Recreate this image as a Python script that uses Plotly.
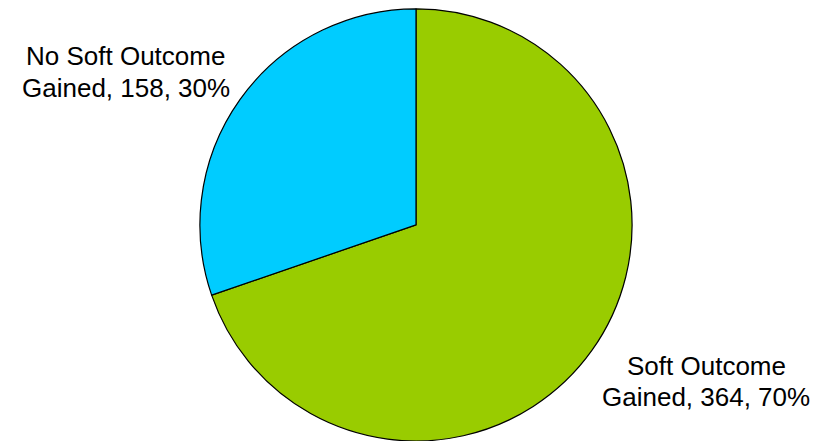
import plotly.graph_objects as go

labels = ["Soft Outcome Gained", "No Soft Outcome Gained"]
label_lines = [["Soft Outcome", "Gained"], ["No Soft Outcome", "Gained"]]
values = [364, 158]
colors = ["#99CC00", "#00CCFF"]

total = sum(values)
W, H = 821, 441

fig = go.Figure(go.Pie(
    labels=labels,
    values=values,
    sort=False,
    direction="clockwise",
    rotation=0,
    marker=dict(colors=colors, line=dict(color="#000000", width=1.2)),
    textinfo="none",
    hoverinfo="label+value+percent",
    showlegend=False,
    domain=dict(x=[(416 - 217) / W, (416 + 217) / W], y=[0.0, 0.98]),
))

# (x center, y center of line 1, y center of line 2) in pixels from top-left
label_pos = [(706, 366, 397), (126, 56, 88)]
font = dict(family="Liberation Sans, Arial, sans-serif", size=26, color="#000000")
anns = []
for i in range(len(values)):
    pct = round(100 * values[i] / total)
    lines = [label_lines[i][0], f"{label_lines[i][1]}, {values[i]}, {pct}%"]
    x, y1, y2 = label_pos[i]
    for txt, y in zip(lines, (y1, y2)):
        anns.append(dict(
            text=txt, x=x / W, y=1 - y / H, xref="paper", yref="paper",
            showarrow=False, xanchor="center", yanchor="middle", align="center",
            font=font,
        ))

fig.update_layout(
    width=W, height=H,
    margin=dict(l=0, r=0, t=0, b=0),
    paper_bgcolor="#FFFFFF",
    plot_bgcolor="#FFFFFF",
    annotations=anns,
)

fig.write_html(
    "out.html",
    config={"displayModeBar": False},
    post_script="document.body.style.margin='0';document.body.style.padding='0';",
)
